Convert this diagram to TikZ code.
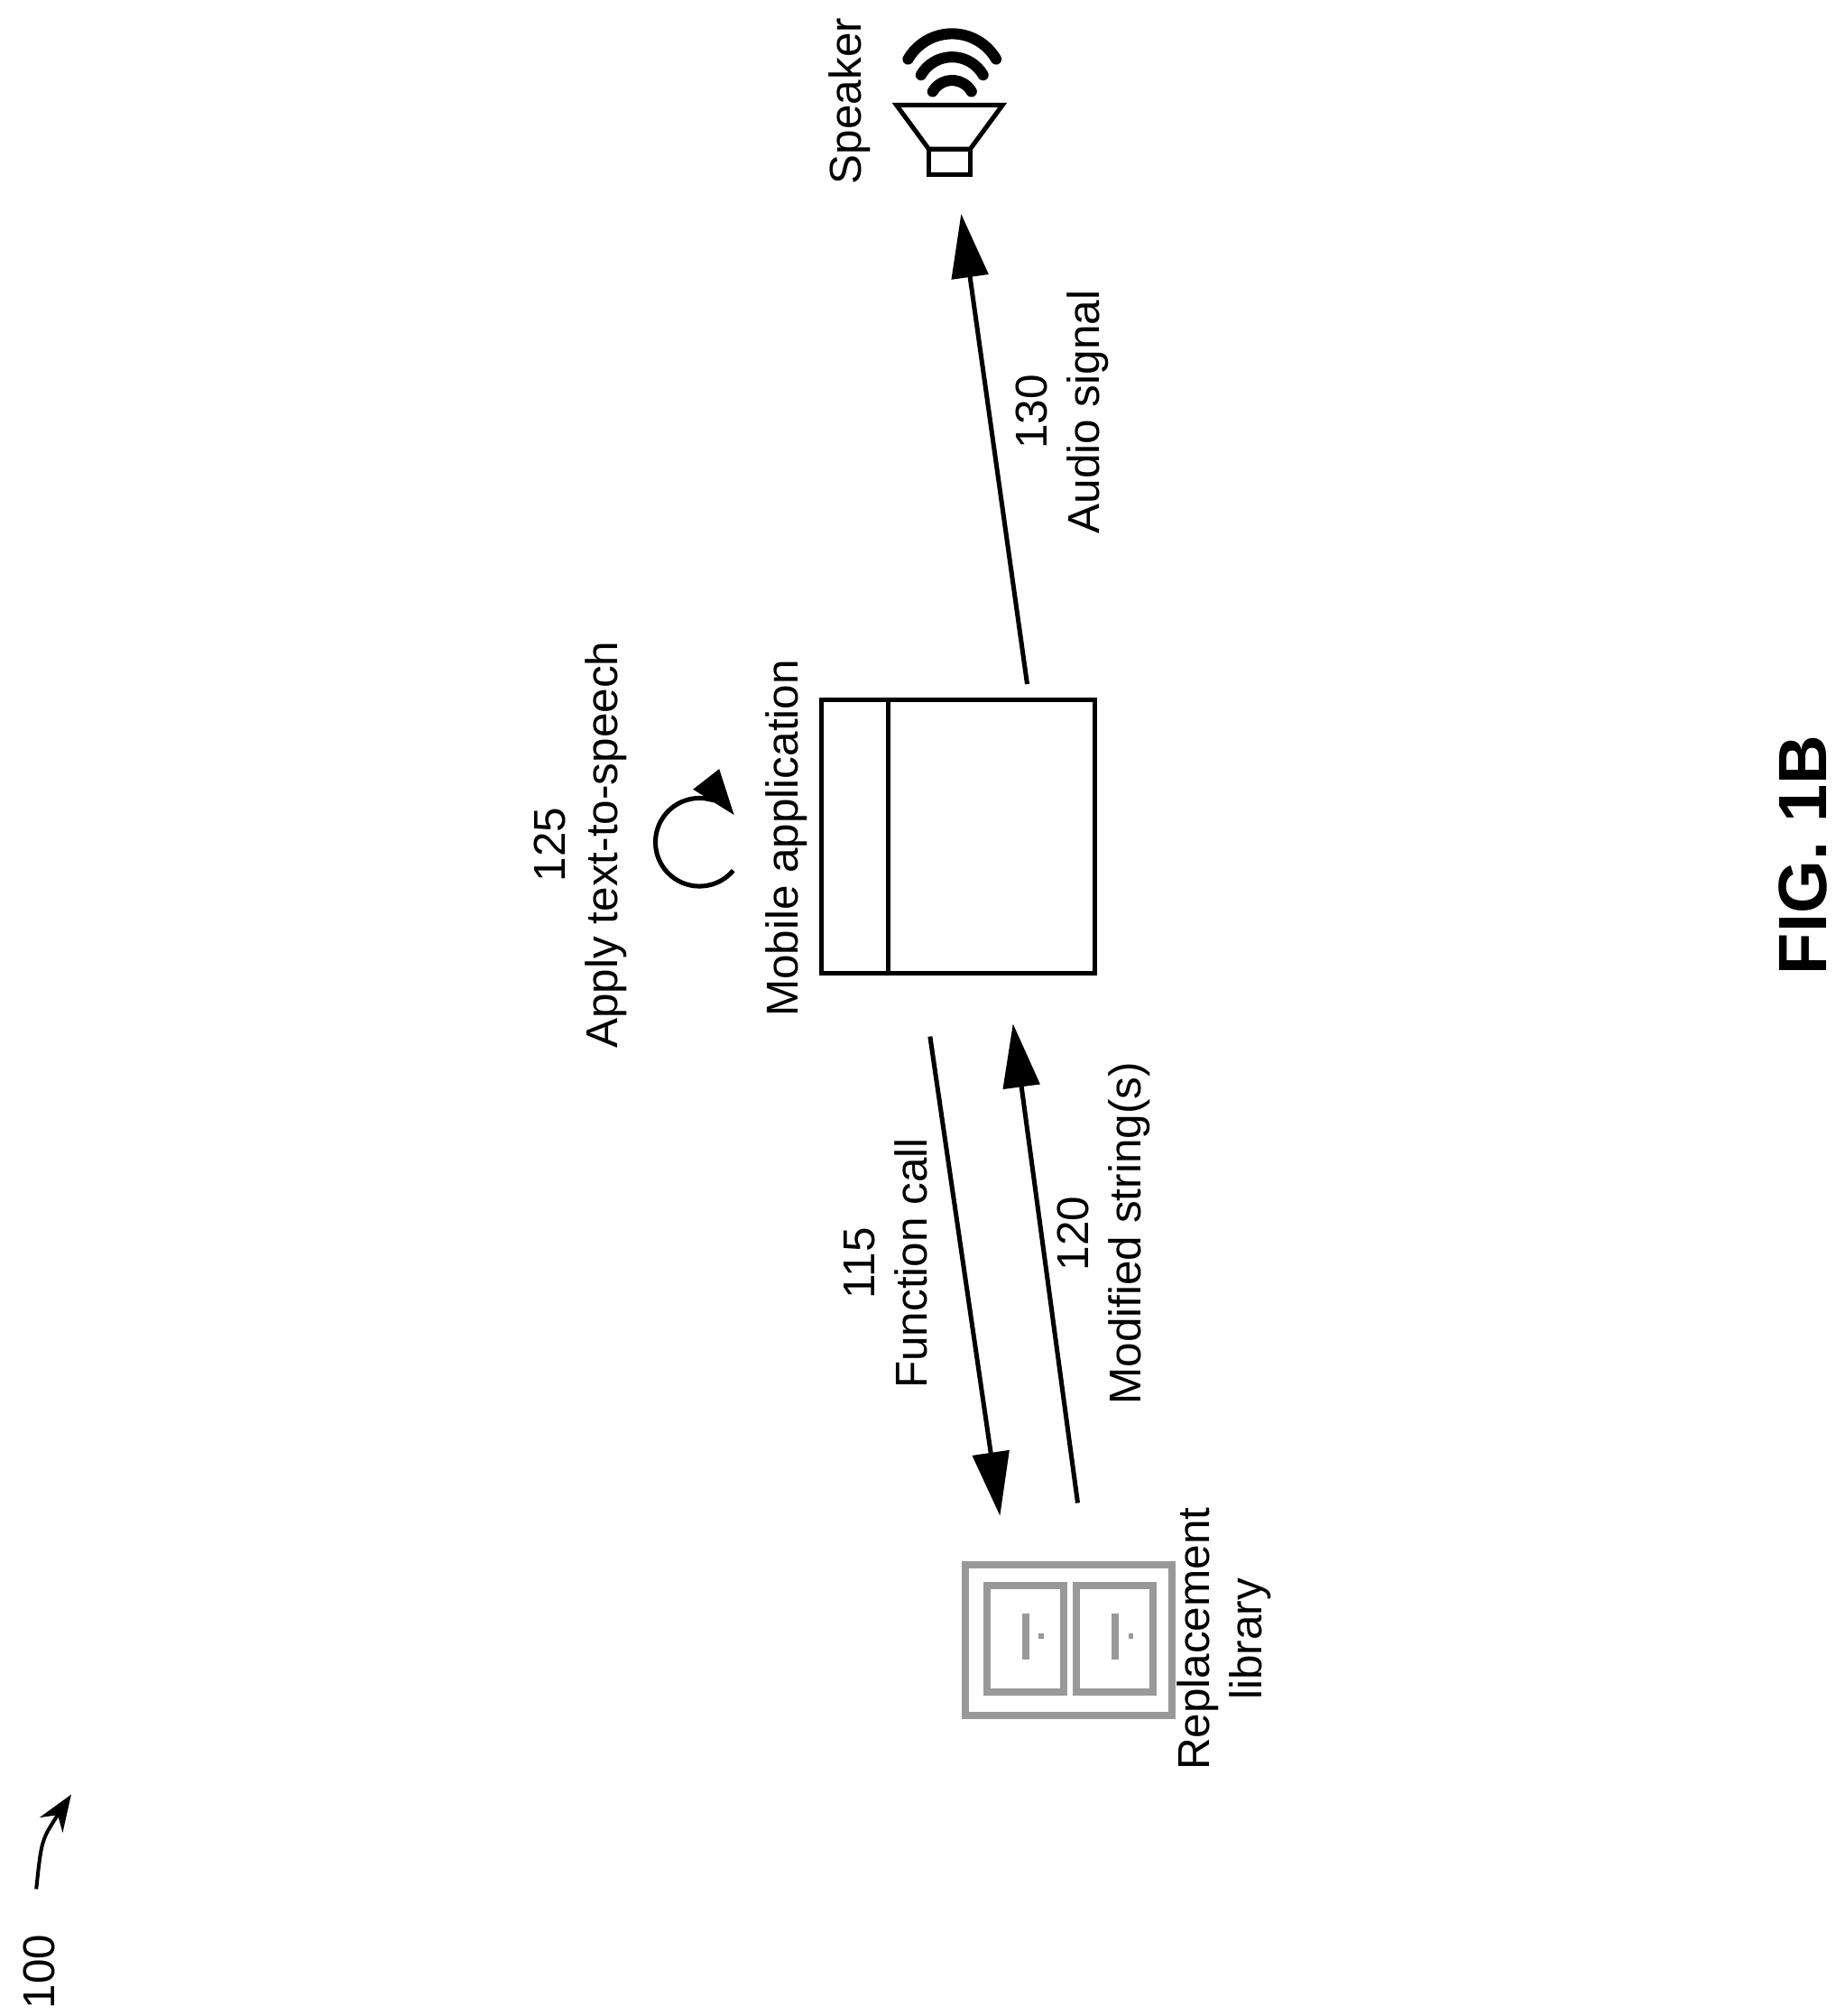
\documentclass[tikz,border=0pt]{standalone}
\usepackage{fontspec}
\setmainfont{Liberation Sans}
\usetikzlibrary{arrows.meta}
\begin{document}
\begin{tikzpicture}[x=0.01cm, y=-0.01cm, >={Triangle[length=14pt,width=8pt]},
  lbl/.style={rotate=90, align=center, font=\fontsize{9.8}{11.5}\selectfont, inner sep=0pt},
  flow/.style={->, line width=1pt},
  cab/.style={draw=gray!80, line width=1.6pt}]
  \useasboundingbox (0,0) rectangle (1417,1556);

  % speaker
  \node[lbl] (spk) at (656,78) {Speaker};
  \draw[line width=1pt] (692,81) -- (774,81) -- (749,115) -- (717,115) -- cycle;
  \draw[line width=1pt] (717,115) rectangle (749,135);
  \foreach \r/\t in {34/26,24/44,15/62}
    \draw[line width=2.4pt, line cap=round] (735-\r,\t+0.5*\r/0.866) arc[start angle=210, end angle=330, radius=\r/0.866];
  \coordinate (spkin) at (742,165);

  % mobile application
  \node[draw, line width=1pt, minimum width=2.11cm, minimum height=2.11cm, inner sep=0pt] (app) at (739.5,645.5) {};
  \draw[line width=1pt] (686,540) -- (686,751);
  \node[lbl] (applbl) at (607,647) {Mobile application};
  \coordinate (tts) at (540,650);
  \draw[->, >={Triangle[length=10pt,width=7pt]}, line width=1pt] ([shift={(40:34)}]tts) arc[start angle=40, end angle=322, radius=34];
  \node[lbl] (ttslbl) at (448,652) {125\\Apply text-to-speech};

  % audio signal
  \coordinate (appout) at (793,528);
  \draw[flow] (appout) -- (spkin);
  \node[lbl] (audiolbl) at (820,318) {130\\Audio signal};

  % replacement library
  \draw[cab] (745,1208) rectangle (905,1324);
  \draw[cab] (762,1224) rectangle (821,1306);
  \draw[cab] (831,1224) rectangle (890,1306);
  \foreach \x in {792,861} {
    \draw[cab] (\x,1245) -- (\x,1281);
    \fill[gray!80] (\x+10,1261) rectangle (\x+14,1265);
  }
  \node[lbl] (liblbl) at (945,1265) {Replacement\\library};

  \coordinate (callsrc) at (718,800);
  \coordinate (calldst) at (772,1170);
  \coordinate (modsrc) at (832,1160);
  \coordinate (moddst) at (782,790);
  \draw[flow] (callsrc) -- (calldst);
  \draw[flow] (modsrc) -- (moddst);
  \node[lbl] (calllbl) at (684,975) {115\\Function call};
  \node[lbl] (modlbl) at (852,952) {120\\Modified string(s)};

  % figure label
  \node[rotate=90, inner sep=0pt, font=\bfseries\fontsize{15}{18}\selectfont] (fig) at (1392,660) {FIG. 1B};
  \node[lbl] (ref) at (30,1522) {100};
  \draw[->, >={Stealth[length=8pt,width=6pt]}, line width=0.8pt] (28,1458) .. controls (32,1420) .. (55,1385);
\end{tikzpicture}
\end{document}
